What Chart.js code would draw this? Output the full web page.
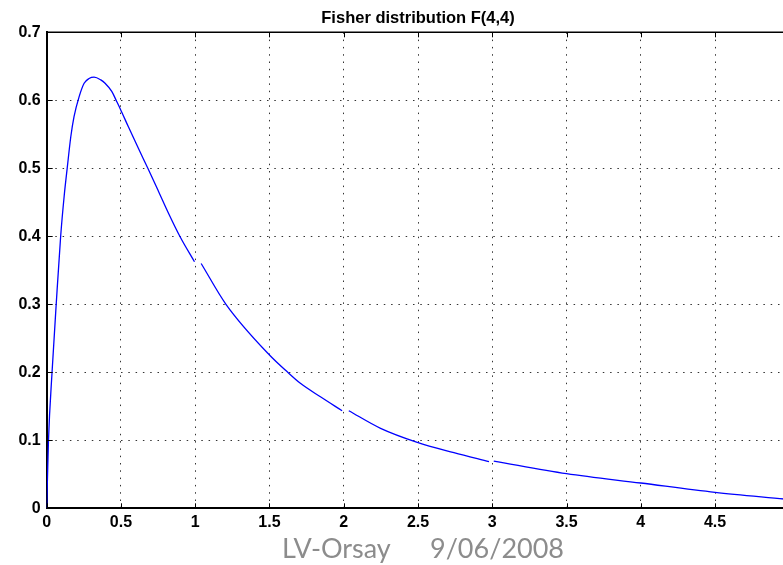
<!DOCTYPE html>
<html>
<head>
<meta charset="utf-8">
<script src="https://cdn.jsdelivr.net/npm/chart.js@4"></script>
<style>
  html, body { margin: 0; padding: 0; background: #ffffff; overflow: hidden; width: 783px; height: 565px; }
  #wrap { position: relative; width: 800px; height: 565px; }
</style>
</head>
<body>
<div id="wrap"><canvas id="c" width="800" height="565"></canvas></div>
<script>
// Values (null = small break in the drawn line)
const xs = [0, 0.012, 0.036, 0.064, 0.094, 0.118, 0.139, 0.162, 0.184, 0.218, 0.252, 0.285, 0.319, 0.364, 0.393, 0.438, 0.472, 0.494, 0.55, 0.618, 0.681, 0.753, 0.82, 0.899, 0.995, 1.02, 1.040, 1.207, 1.5, 1.623, 1.708, 1.843, 1.989, 2.01, 2.034, 2.248, 2.495, 2.742, 2.978, 2.995, 3.01, 3.5, 4.0, 4.5, 4.965];
const ys = [0, 0.1, 0.2, 0.3, 0.4, 0.46, 0.502, 0.546, 0.576, 0.605, 0.625, 0.632, 0.634, 0.630, 0.625, 0.613, 0.598, 0.588, 0.561, 0.529, 0.5, 0.466, 0.434, 0.399, 0.3626, null, 0.360, 0.3, 0.2254, 0.2, 0.1838, 0.164, 0.1435, null, 0.1435, 0.1176, 0.097, 0.0818, 0.0686, null, 0.0695, 0.0509, 0.0372, 0.0235, 0.0137];
const xTickLabels = ['0', '0.5', '1', '1.5', '2', '2.5', '3', '3.5', '4', '4.5', ''];
const yTickLabels = ['0', '0.1', '0.2', '0.3', '0.4', '0.5', '0.6', '0.7'];
const titleText = 'Fisher distribution F(4,4)';
const footerLeft = 'LV-Orsay';
const footerRight = '9/06/2008';

const points = xs.map((x, i) => ({ x: x, y: ys[i] }));

const decor = {
  id: 'decor',
  afterDraw(chart) {
    const ctx = chart.ctx;
    const a = chart.chartArea;
    const xs_ = chart.scales.x, ys_ = chart.scales.y;
    ctx.save();
    // top frame line
    ctx.strokeStyle = '#000';
    ctx.lineWidth = 1.5;
    ctx.beginPath();
    ctx.moveTo(a.left, a.top);
    ctx.lineTo(a.right, a.top);
    ctx.stroke();
    // inward tick marks
    ctx.lineWidth = 1;
    xs_.ticks.forEach(t => {
      const px = Math.round(xs_.getPixelForValue(t.value)) + 0.5;
      ctx.beginPath();
      ctx.moveTo(px, a.bottom); ctx.lineTo(px, a.bottom - 5);
      ctx.moveTo(px, a.top); ctx.lineTo(px, a.top + 5);
      ctx.stroke();
    });
    ys_.ticks.forEach(t => {
      const py = Math.round(ys_.getPixelForValue(t.value)) + 0.5;
      ctx.beginPath();
      ctx.moveTo(a.left, py); ctx.lineTo(a.left + 6, py);
      ctx.stroke();
    });
    // title
    ctx.fillStyle = '#000';
    ctx.font = 'bold 16.5px "Liberation Sans", Arial, sans-serif';
    ctx.textAlign = 'center';
    ctx.textBaseline = 'middle';
    ctx.fillText(titleText, (a.left + a.right) / 2, 18.5);
    // footer
    ctx.fillStyle = '#8c8c8c';
    ctx.font = '27px Lato, "Open Sans", sans-serif';
    ctx.textAlign = 'left';
    ctx.textBaseline = 'alphabetic';
    ctx.fillText(footerLeft, 282, 558);
    ctx.fillText(footerRight, 430, 558);
    ctx.restore();
  }
};

new Chart(document.getElementById('c'), {
  type: 'line',
  data: {
    datasets: [{
      data: points,
      borderColor: '#0000ff',
      borderWidth: 1.3,
      pointRadius: 0,
      fill: false,
      spanGaps: false,
      cubicInterpolationMode: 'monotone'
    }]
  },
  options: {
    responsive: false,
    animation: false,
    devicePixelRatio: 1,
    layout: { padding: { left: 0, right: 10.7, top: 32.3, bottom: 0 } },
    plugins: { legend: { display: false }, title: { display: false }, tooltip: { enabled: false } },
    scales: {
      x: {
        type: 'linear',
        min: 0, max: 5,
        afterFit(s) { s.height = 56.7; },
        ticks: {
          stepSize: 0.5,
          autoSkip: false,
          maxRotation: 0,
          padding: 5,
          color: '#000',
          font: { family: '"Liberation Sans", Arial, sans-serif', size: 16, weight: 'bold' },
          callback: (v, i) => xTickLabels[i]
        },
        grid: { color: '#333', lineWidth: 1, drawTicks: false },
        border: { display: true, color: '#000', width: 2, dash: [1.5, 5.8] }
      },
      y: {
        min: 0, max: 0.7,
        afterFit(s) { s.width = 46.7; },
        ticks: {
          stepSize: 0.1,
          autoSkip: false,
          padding: 6,
          color: '#000',
          font: { family: '"Liberation Sans", Arial, sans-serif', size: 16, weight: 'bold' },
          callback: (v, i) => yTickLabels[i]
        },
        grid: { color: '#333', lineWidth: 1, drawTicks: false },
        border: { display: true, color: '#000', width: 2, dash: [1.5, 5.8] }
      }
    }
  },
  plugins: [decor]
});
</script>
</body>
</html>
